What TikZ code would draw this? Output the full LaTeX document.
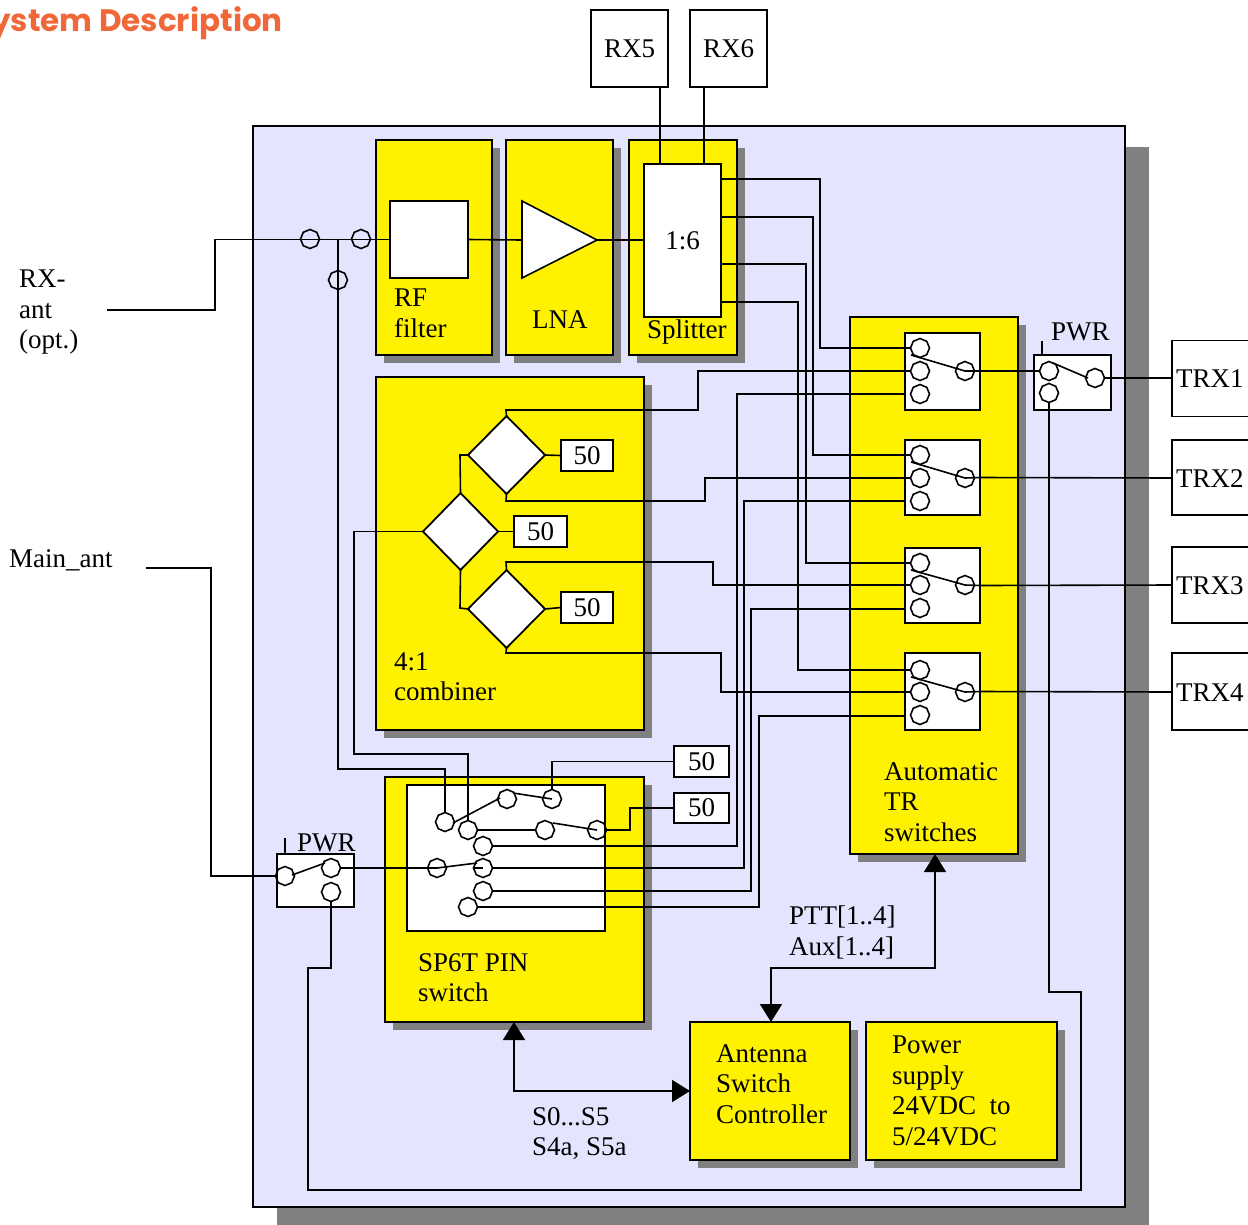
\documentclass[tikz,border=0pt]{standalone}
\usepackage{fontspec}
\setmainfont{Liberation Serif}
\newfontfamily\popfont{Poppins}
\usetikzlibrary{shapes.geometric,shadows,arrows.meta,calc}
\definecolor{panelc}{HTML}{E4E4FE}
\definecolor{shc}{HTML}{808080}
\definecolor{orangec}{HTML}{F0683A}
\tikzset{
  wire/.style={draw=black,line width=1.6pt,line join=miter},
  bigarrow/.style={wire,{Triangle[length=18pt,width=22pt]}-{Triangle[length=18pt,width=22pt]}},
  yb/.style={draw=black,line width=1.8pt,fill=yellow,outer sep=0pt,general shadow={fill=shc,shadow xshift=8pt,shadow yshift=-8pt}},
  wb/.style={draw=black,line width=1.8pt,fill=white,outer sep=0pt,font=\txt},
  panelb/.style={draw=black,line width=1.6pt,fill=panelc,outer sep=0pt,general shadow={fill=shc,shadow xshift=24pt,shadow yshift=-21pt}},
  dia/.style={diamond,draw=black,line width=1.8pt,fill=white,outer sep=0pt},
  oct/.style={regular polygon,regular polygon sides=8,shape border rotate=22.5,draw=black,line width=1.6pt,minimum size=19pt,inner sep=0pt,outer sep=0pt},
  lbl/.style={anchor=north west,inner sep=0pt,align=left,font=\txt,execute at begin node=\rule{0pt}{18pt}},
}
\newcommand\txt{\fontsize{27}{30.5}\selectfont}
\newcommand\bx[7][]{\pgfmathsetmacro\cxx{(#4+#6)/2}\pgfmathsetmacro\cyy{(#5+#7)/2}\pgfmathsetmacro\ww{abs(#6-#4)}\pgfmathsetmacro\hh{abs(#7-#5)}\node[#2,minimum width=\ww pt,minimum height=\hh pt,inner sep=0pt] (#3) at (\cxx,\cyy) {#1};}
\begin{document}
\begin{tikzpicture}[x=1pt,y=-1pt]
\useasboundingbox (0,0) rectangle (1248,1224);
\bx{panelb}{panel}{253}{126}{1125}{1207}
\node[anchor=east,inner sep=0pt,text=orangec,font=\popfont\bfseries\fontsize{31}{36}\selectfont] (title) at (283,23) {System Description};
% yellow blocks
\bx{yb}{rfb}{376}{140}{492}{355}
\bx{yb}{lnab}{506}{140}{613}{355}
\bx{yb}{splb}{629}{140}{737}{355}
\bx{yb}{comb}{376}{377}{644}{730}
\bx{yb}{autob}{850}{317}{1018}{854}
\bx{yb}{pinb}{385}{777}{644}{1022}
\bx{yb}{ctrl}{690}{1022}{850}{1160}
\bx{yb}{psu}{866}{1022}{1057}{1160}
% white boxes
\bx{wb}{rfw}{390}{201}{468}{278}
\bx[1:6]{wb}{spl}{644}{164}{721}{317}
\bx{wb}{pinw}{407}{785}{605}{931}
\bx[RX5]{wb}{rx5}{591}{10}{668}{87}
\bx[RX6]{wb}{rx6}{690}{10}{767}{87}
\bx{wb}{pwra}{277}{854}{354}{907}
\bx{wb}{pwrb}{1034}{355}{1111}{410}
\node[wb,anchor=west,minimum width=90pt,minimum height=76pt,inner sep=0pt] (trx1) at (1172,378.5) {};
\node[wb,anchor=west,minimum width=90pt,minimum height=75pt,inner sep=0pt] (trx2) at (1172,477.5) {};
\node[wb,anchor=west,minimum width=90pt,minimum height=76pt,inner sep=0pt] (trx3) at (1172,585) {};
\node[wb,anchor=west,minimum width=90pt,minimum height=77pt,inner sep=0pt] (trx4) at (1172,691.5) {};
\bx[50]{wb}{t1}{561}{440}{613}{471}
\bx[50]{wb}{t2}{514}{516}{567}{547}
\bx[50]{wb}{t3}{561}{592}{613}{623}
\bx[50]{wb}{t4}{674}{746}{729}{777}
\bx[50]{wb}{t5}{674}{793}{729}{823}
% diamonds
\bx{dia}{dm}{423}{493}{498}{570}
\bx{dia}{du}{468}{416}{545}{494}
\bx{dia}{dl}{468}{570}{545}{648}
% LNA triangle
\coordinate (lnain) at (522,240);
\coordinate (lnaout) at (597,240);
\draw[wire,fill=white] (522,201) -- (522,278) -- (lnaout) -- cycle;
% switches on the TR block
\foreach \i/\yt/\yk/\ya/\yy/\yc in {1/333/410/348/371/394,2/440/515/455/478/501,3/548/623/563/585/608,4/653/730/670/692/715}{
  \bx{wb}{s\i}{905}{\yt}{980}{\yk}
  \node[oct] (s\i a) at (920,\ya) {};
  \node[oct] (s\i b) at (920,\yy) {};
  \node[oct] (s\i c) at (920,\yc) {};
  \node[oct] (s\i o) at (965,\yy) {};
  \coordinate (s\i m) at (911,\ya+7);
  \draw[wire] (s\i m) -- (s\i o.center);
}
% free octagons
\node[oct] (o1) at (310,239) {};
\node[oct] (o2) at (361,239) {};
\node[oct] (o3) at (338,280) {};
% PWR left
\node[oct] (pa) at (285,876) {};
\node[oct] (pb) at (331,868) {};
\node[oct] (pc) at (331,892) {};
\coordinate (pam) at (292,875);
\coordinate (pan) at (325,863);
\draw[wire] (pam) -- (pan);
\coordinate (pat1) at (285,838);
\draw[wire] (pat1) -- (pat1 |- pwra.north);
% PWR right
\node[oct] (qa) at (1049,371) {};
\node[oct] (qb) at (1049,393) {};
\node[oct] (qc) at (1095,378) {};
\coordinate (qam) at (1053,363);
\coordinate (qan) at (1088,378);
\draw[wire] (qam) -- (qan);
\coordinate (qat1) at (1042,341);
\draw[wire] (qat1) -- (qat1 |- pwrb.north);
% SP6T contacts
\node[oct] (c1) at (445,822) {};
\node[oct] (c2) at (468,830) {};
\node[oct] (c3) at (483,846) {};
\node[oct] (c4) at (507,799) {};
\node[oct] (c5) at (552,799) {};
\node[oct] (c6) at (545,830) {};
\node[oct] (c7) at (597,830) {};
\node[oct] (c8) at (437,868) {};
\node[oct] (c9) at (483,868) {};
\node[oct] (c10) at (483,891) {};
\node[oct] (c11) at (468,907) {};
\coordinate (a1) at (453,823);
\coordinate (a2) at (500,798);
\coordinate (a3) at (513,793);
\coordinate (a4) at (553,823);
\coordinate (a5) at (477,863);
\draw[wire] (a1) -- (a2);
\draw[wire] (a3) -- (c5.center);
\draw[wire] (a4) -- (c7.center);
\draw[wire] (c8.center) -- (a5);
% connectors
\coordinate (rxant) at (107,310);
\coordinate (mainant) at (146,568);
\coordinate (jct) at (338,239.5);
\draw[wire] (rxant) -| (215,239.5) -- (rfw.west);
\draw[wire] (jct) |- (445,769) -- (c1.north);
\draw[wire] (dm.west) -| (354,754) -| (c2.north);
\draw[wire] (rfw.east) -- (lnain);
\draw[wire] (lnaout) -- (spl.west |- lnaout);
\draw[wire] (rx5.south -| 660,0) -- (spl.north -| 660,0);
\draw[wire] (rx6.south -| 704,0) -- (spl.north -| 704,0);
\draw[wire] (spl.east |- 0,179) -| (820,348) -- (s1a.west);
\draw[wire] (spl.east |- 0,217) -| (813,455) -- (s2a.west);
\draw[wire] (spl.east |- 0,264) -| (806,563) -- (s3a.west);
\draw[wire] (spl.east |- 0,302) -| (798,670) -- (s4a.west);
\draw[wire] (du.north) -- (506,410) -| (698,371) -- (s1b.west);
\draw[wire] (du.south) -- (506,501) -| (705,478) -- (s2b.west);
\draw[wire] (dl.north) -- (506,562) -| (713,585) -- (s3b.west);
\draw[wire] (dl.south) -- (506,653) -| (721,692) -- (s4b.west);
\draw[wire] (dm.north) -- (460,455) -- (du.west);
\draw[wire] (dm.south) -- (460,608) -- (dl.west);
\draw[wire] (du.east) -- (t1.west);
\draw[wire] (dm.east) -- (t2.west);
\draw[wire] (dl.east) -- (t3.west);
\draw[wire] (t4.west) -| (c5.north);
\draw[wire] (t5.west) -| (630,830) -- (c7.east);
\draw[wire] (c2.east) -- (c6.west);
\draw[wire] (c3.east) -| (737,394) -- (s1.west |- 0,394);
\draw[wire] (c9.east) -| (744,501) -- (s2.west |- 0,501);
\draw[wire] (c10.east) -| (751,609) -- (s3.west |- 0,609);
\draw[wire] (c11.east) -| (759,716) -- (s4.west |- 0,716);
\draw[wire] (mainant) -| (211,876) -- (pa.west);
\draw[wire] (pb.east) -- (c8.center);
\draw[wire] (c9.west) -- (c9.center);
\draw[wire] (pc.south) |- (308,968) |- (1081,1190) |- (1049,992) -- (qb.south);
\draw[wire] (s1o.center) -- (qa.west);
\draw[wire] (qc.east) -- (trx1.west |- qc);
\draw[wire] (s2o.center) -- (s2.east) -- (trx2.west |- s2o);
\draw[wire] (s3o.center) -- (s3.east) -- (trx3.west |- s3o);
\draw[wire] (s4o.center) -- (s4.east) -- (trx4.west |- s4o);
\draw[bigarrow] (autob.south -| 935,0) |- (771,968) -- (ctrl.north -| 771,0);
\draw[bigarrow] (pinb.south -| 514,0) |- (ctrl.west |- 0,1091);
% labels
\node[lbl] (l1) at (19,270) {RX-\\ant\\(opt.)};
\node[lbl] (l2) at (9,549) {Main\_ant};
\node[lbl] (l3) at (394,289) {RF\\filter};
\node[lbl] (l4) at (532,310) {LNA};
\node[lbl] (l5) at (647,320) {Splitter};
\node[lbl] (l6) at (394,652) {4:1\\combiner};
\node[lbl] (l7) at (884,762) {Automatic\\TR\\switches};
\node[lbl] (l8) at (418,953) {SP6T PIN\\switch};
\node[lbl] (l9) at (716,1044) {Antenna\\Switch\\Controller};
\node[lbl] (l10) at (892,1036) {Power\\supply\\24VDC~~to\\5/24VDC};
\node[lbl] (l11) at (789,906) {PTT[1..4]\\Aux[1..4]};
\node[lbl] (l12) at (532,1107) {S0...S5\\S4a, S5a};
\node[lbl] (l13) at (297,833) {PWR};
\node[lbl] (l14) at (1051,322) {PWR};
\node[lbl] (l15) at (1176,369) {TRX1};
\node[lbl] (l16) at (1176,469) {TRX2};
\node[lbl] (l17) at (1176,576) {TRX3};
\node[lbl] (l18) at (1176,683) {TRX4};
\end{tikzpicture}
\end{document}
